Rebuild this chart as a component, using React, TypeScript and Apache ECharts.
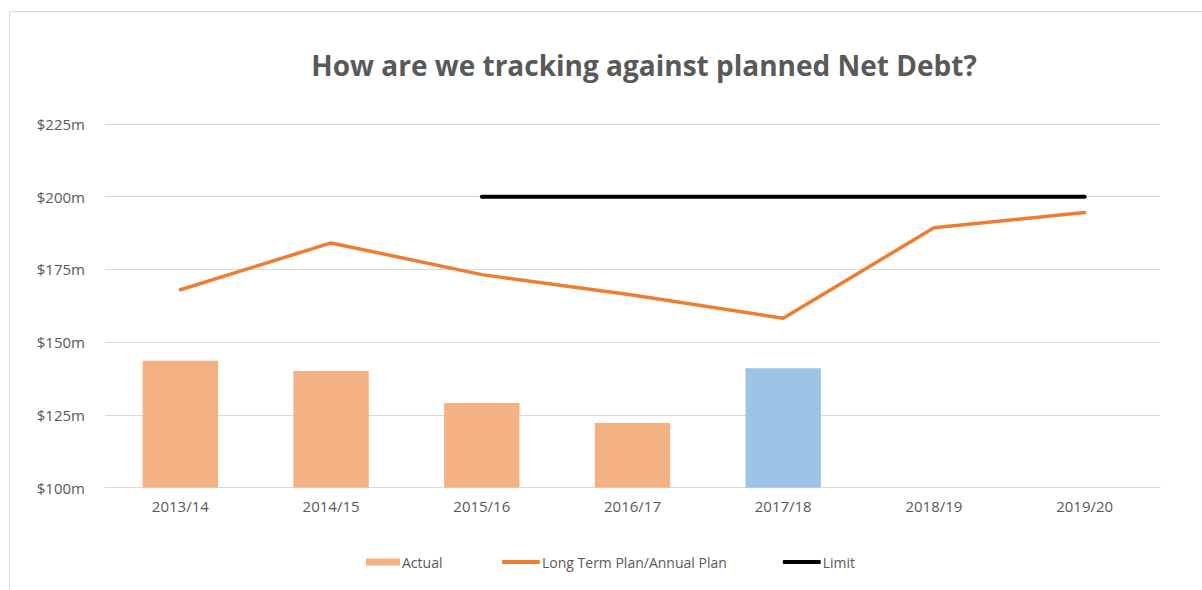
import React, { useEffect, useRef } from "react";
import * as echarts from "echarts";

const categories = ["2013/14", "2014/15", "2015/16", "2016/17", "2017/18", "2018/19", "2019/20"];
const actualValues = [143.6, 140.1, 129.1, 122.2, 141.0, null, null];
const actualColors = ["#f4b183", "#f4b183", "#f4b183", "#f4b183", "#9dc3e6", "#f4b183", "#f4b183"];
const planValues = [168.0, 184.1, 173.2, 166.2, 158.2, 189.3, 194.6];
const limitValues = [null, null, 200, 200, 200, 200, 200];
const seriesNames = ["Actual", "Long Term Plan/Annual Plan", "Limit"];
const titleText = "How are we tracking against planned Net Debt?";

const FONT = "'Open Sans', 'Noto Sans', sans-serif";
const TEXT = "#595959";

export default function App() {
  const ref = useRef<HTMLDivElement>(null);
  useEffect(() => {
    document.body.style.margin = "0";
    const chart = echarts.init(ref.current!, null, { renderer: "svg" });
    const legendText = { fontFamily: FONT, fontSize: 14, color: TEXT, padding: [0, 0, 0, -3] };
    chart.setOption({
      animation: false,
      backgroundColor: "#ffffff",
      textStyle: { fontFamily: FONT },
      title: {
        text: titleText,
        left: 639,
        top: 46,
        textAlign: "center",
        textStyle: { fontFamily: FONT, fontSize: 28, fontWeight: "bold", color: TEXT },
      },
      graphic: [
        {
          type: "rect",
          shape: { x: 9.5, y: 11.5, width: 1300, height: 700 },
          style: { fill: "none", stroke: "#d9d9d9", lineWidth: 1 },
          silent: true,
          z: -10,
        },
      ],
      legend: [
        {
          left: 366,
          top: 555,
          padding: 0,
          itemWidth: 34,
          itemHeight: 7,
          textStyle: legendText,
          data: [{ name: seriesNames[0], icon: "rect", itemStyle: { color: "#f4b183" } }],
        },
        {
          left: 502,
          top: 555,
          padding: 0,
          itemGap: 56,
          itemWidth: 38,
          itemHeight: 4,
          textStyle: legendText,
          data: [
            { name: seriesNames[1], icon: "roundRect", itemStyle: { color: "#ed7d31" } },
            { name: seriesNames[2], icon: "roundRect", itemStyle: { color: "#000000" } },
          ],
        },
      ],
      grid: { left: 105, right: 42, top: 124, bottom: 102.5, containLabel: false },
      xAxis: {
        type: "category",
        data: categories,
        axisLine: { lineStyle: { color: "#d9d9d9", width: 1 } },
        axisTick: { show: false },
        axisLabel: { color: TEXT, fontFamily: FONT, fontSize: 15, margin: 11 },
      },
      yAxis: {
        type: "value",
        min: 100,
        max: 225,
        interval: 25,
        axisLine: { show: false },
        axisTick: { show: false },
        splitLine: { lineStyle: { color: "#d9d9d9", width: 1 } },
        axisLabel: {
          color: TEXT,
          fontFamily: FONT,
          fontSize: 15,
          margin: 20,
          formatter: (v: number) => "$" + v + "m",
        },
      },
      series: [
        {
          name: seriesNames[0],
          type: "bar",
          barWidth: "50%",
          data: actualValues.map((v, i) => ({ value: v, itemStyle: { color: actualColors[i] } })),
          itemStyle: { color: "#f4b183" },
        },
        {
          name: seriesNames[1],
          type: "line",
          data: planValues,
          symbol: "none",
          lineStyle: { color: "#ed7d31", width: 3.5, cap: "round" },
          itemStyle: { color: "#ed7d31" },
        },
        {
          name: seriesNames[2],
          type: "line",
          data: limitValues,
          symbol: "none",
          lineStyle: { color: "#000000", width: 4, cap: "round" },
          itemStyle: { color: "#000000" },
        },
      ],
    });
    return () => chart.dispose();
  }, []);
  return <div ref={ref} style={{ width: 1202, height: 590 }} />;
}
